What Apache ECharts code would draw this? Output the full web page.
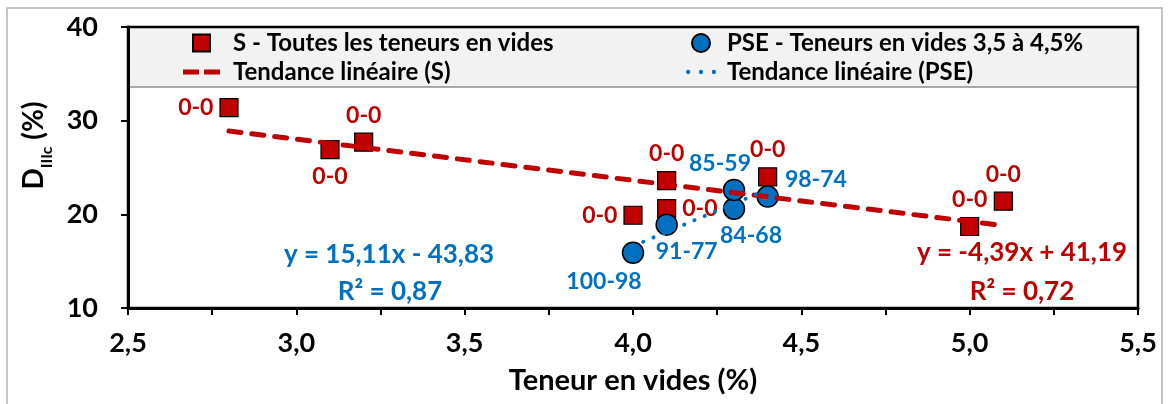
<!DOCTYPE html>
<html>
<head>
<meta charset="utf-8">
<script src="https://cdn.jsdelivr.net/npm/echarts@6/dist/echarts.min.js"></script>
<style>
  html, body { margin: 0; padding: 0; background: #fff; }
  #chart { width: 1171px; height: 404px; }
</style>
</head>
<body>
<div id="chart"></div>
<script>
// Teneur en vides (%) vs DIIIc (%)
const sX = [2.8, 3.1, 3.2, 4.0, 4.1, 4.1, 4.4, 5.0, 5.1];
const sY = [31.4, 26.9, 27.7, 19.9, 23.6, 20.6, 24.0, 18.7, 21.4];
const sLabels = ['0-0', '0-0', '0-0', '0-0', '0-0', '0-0', '0-0', '0-0', '0-0'];

const pseX = [4.0, 4.1, 4.3, 4.3, 4.4];
const pseY = [15.9, 18.9, 20.6, 22.6, 21.9];
const pseLabels = ['100-98', '91-77', '84-68', '85-59', '98-74'];

// linear trend coefficients [slope, intercept] and x extent
const sTrendCoef = [-4.39, 41.19];
const sTrendRange = [2.8, 5.1];
const pseTrendCoef = [15.11, -43.83];
const pseTrendRange = [4.0, 4.4];

const sEquation = ['y = -4,39x + 41,19', 'R² = 0,72'];
const pseEquation = ['y = 15,11x - 43,83', 'R² = 0,87'];

const seriesNames = [
  'S - Toutes les teneurs en vides',
  'PSE - Teneurs en vides 3,5 à 4,5%',
  'Tendance linéaire (S)',
  'Tendance linéaire (PSE)'
];

// label placement per point
const sLabelPos = ['left', 'bottom', 'top', 'left', 'top', 'right', 'top', 'top', 'top'];
const pseLabelPos = [
  { position: 'bottom', offset: [-29, 0] },
  { position: 'bottom', offset: [20, -2] },
  { position: 'bottom', offset: [17, -2] },
  { position: 'top', offset: [-14, 2] },
  { position: 'right', offset: [0, -17] }
];

const RED = '#c00000';
const BLUE = '#0070c0';
const FONT = 'Lato, "Open Sans", sans-serif';

// legend glyphs for the two trend lines
const DASH_ICON = 'path://M0,0H16V5H0Z M21,0H37V5H21Z';
const DOT_ICON = 'path://M0,2.25A2.25,2.25,0,1,0,4.5,2.25A2.25,2.25,0,1,0,0,2.25Z' +
  'M13.5,2.25A2.25,2.25,0,1,0,18,2.25A2.25,2.25,0,1,0,13.5,2.25Z' +
  'M27,2.25A2.25,2.25,0,1,0,31.5,2.25A2.25,2.25,0,1,0,27,2.25Z';

const trend = (coef, range) => range.map(x => [x, +(coef[0] * x + coef[1]).toFixed(4)]);

const chart = echarts.init(document.getElementById('chart'), null, { renderer: 'canvas' });

const eqStyle = (color) => ({ fill: color, font: 'bold 26px ' + FONT, align: 'center', verticalAlign: 'middle' });

chart.setOption({
  animation: false,
  textStyle: { fontFamily: FONT },
  grid: {
    left: 128, right: 33, top: 27, bottom: 96,
    show: true, borderColor: '#000', borderWidth: 2.5, backgroundColor: 'transparent'
  },
  graphic: [
    {
      type: 'rect', z: -10, silent: true,
      shape: { x: 7, y: 8, width: 1155, height: 430 },
      style: { fill: 'none', stroke: '#b3b3b3', lineWidth: 1.5 }
    },
    {
      type: 'rect', z: -5, silent: true,
      shape: { x: 129, y: 28, width: 1008, height: 59 },
      style: { fill: '#f2f2f2', stroke: 'none' }
    },
    {
      type: 'line', z: -4, silent: true,
      shape: { x1: 129, y1: 87, x2: 1137, y2: 87 },
      style: { stroke: '#595959', lineWidth: 1.2 }
    },
    { type: 'text', silent: true, x: 389, y: 255, style: Object.assign({ text: pseEquation[0] }, eqStyle(BLUE)) },
    { type: 'text', silent: true, x: 390, y: 292, style: Object.assign({ text: pseEquation[1] }, eqStyle(BLUE)) },
    { type: 'text', silent: true, x: 1022, y: 253, style: Object.assign({ text: sEquation[0] }, eqStyle(RED)) },
    { type: 'text', silent: true, x: 1022, y: 292, style: Object.assign({ text: sEquation[1] }, eqStyle(RED)) }
  ],
  legend: [
    {
      left: 183, top: 30, orient: 'vertical', padding: 0,
      itemWidth: 37, itemHeight: 17, itemGap: 3, selectedMode: false,
      textStyle: { fontSize: 24, fontWeight: 'bold', color: '#000', fontFamily: FONT, lineHeight: 26, padding: [0, 0, 0, 8] },
      data: [
        { name: seriesNames[0], icon: 'path://M0,0L10,0L10,10L0,10Z' },
        { name: seriesNames[2], icon: DASH_ICON, itemStyle: { color: RED, borderWidth: 0 } }
      ]
    },
    {
      left: 686, top: 30, orient: 'vertical', padding: 0,
      itemWidth: 30, itemHeight: 18, itemGap: 3, selectedMode: false,
      textStyle: { fontSize: 24, fontWeight: 'bold', color: '#000', fontFamily: FONT, lineHeight: 26, padding: [0, 0, 0, 6] },
      data: [
        { name: seriesNames[1], icon: 'circle' },
        { name: seriesNames[3], icon: DOT_ICON, itemStyle: { color: BLUE, borderWidth: 0 } }
      ]
    }
  ],
  xAxis: {
    type: 'value', min: 2.5, max: 5.5, interval: 0.25,
    name: 'Teneur en vides (%)', nameLocation: 'middle', nameGap: 58,
    nameTextStyle: { fontSize: 29, fontWeight: 'bold', color: '#000', fontFamily: FONT },
    axisLine: { onZero: false, lineStyle: { color: '#000', width: 3 } },
    axisTick: { show: true, length: 7, lineStyle: { color: '#000', width: 2 } },
    axisLabel: {
      margin: 22, fontSize: 27, fontWeight: 'bold', color: '#000', fontFamily: FONT,
      formatter: v => (Math.abs(v * 2 - Math.round(v * 2)) < 1e-6 ? v.toFixed(1).replace('.', ',') : '')
    },
    splitLine: { show: false }
  },
  yAxis: {
    type: 'value', min: 10, max: 40, interval: 10,
    name: '{d|D}{s|IIIc}{d| (%)}', nameLocation: 'middle', nameGap: 80,
    nameTextStyle: {
      padding: [0, 0, 0, 44],
      rich: {
        d: { fontSize: 28, fontWeight: 'bold', color: '#000', fontFamily: FONT, lineHeight: 34, verticalAlign: 'bottom' },
        s: { fontSize: 16, fontWeight: 'bold', color: '#000', fontFamily: FONT, lineHeight: 34, verticalAlign: 'bottom', padding: [0, 0, -7, 0] }
      }
    },
    axisLine: { show: true, lineStyle: { color: '#000', width: 3 } },
    axisTick: { show: true, length: 7, lineStyle: { color: '#000', width: 2 } },
    axisLabel: { margin: 30, fontSize: 27, fontWeight: 'bold', color: '#000', fontFamily: FONT },
    splitLine: { show: false }
  },
  series: [
    {
      name: seriesNames[0], type: 'scatter', z: 3,
      symbol: 'rect', symbolSize: 18,
      itemStyle: { color: RED, borderColor: '#000', borderWidth: 1.2, opacity: 1 },
      label: { show: true, distance: 6, color: RED, fontSize: 23, fontWeight: 'bold', fontFamily: FONT },
      data: sX.map((x, i) => ({
        value: [x, sY[i]],
        label: { position: sLabelPos[i], formatter: sLabels[i] }
      }))
    },
    {
      name: seriesNames[1], type: 'scatter', z: 4,
      symbol: 'circle', symbolSize: 21,
      itemStyle: { color: BLUE, borderColor: '#000', borderWidth: 1.5, opacity: 1 },
      label: { show: true, distance: 6, color: BLUE, fontSize: 23, fontWeight: 'bold', fontFamily: FONT },
      data: pseX.map((x, i) => ({
        value: [x, pseY[i]],
        label: { position: pseLabelPos[i].position, offset: pseLabelPos[i].offset, formatter: pseLabels[i] }
      }))
    },
    {
      name: seriesNames[2], type: 'line', z: 5,
      symbol: 'none', silent: true,
      lineStyle: { color: RED, width: 5, type: [12, 11], cap: 'round' },
      itemStyle: { color: RED },
      data: trend(sTrendCoef, sTrendRange)
    },
    {
      name: seriesNames[3], type: 'line', z: 5,
      symbol: 'none', silent: true,
      lineStyle: { color: BLUE, width: 4, type: [0.1, 11], cap: 'round' },
      itemStyle: { color: BLUE },
      data: trend(pseTrendCoef, pseTrendRange)
    }
  ]
});
</script>
</body>
</html>
